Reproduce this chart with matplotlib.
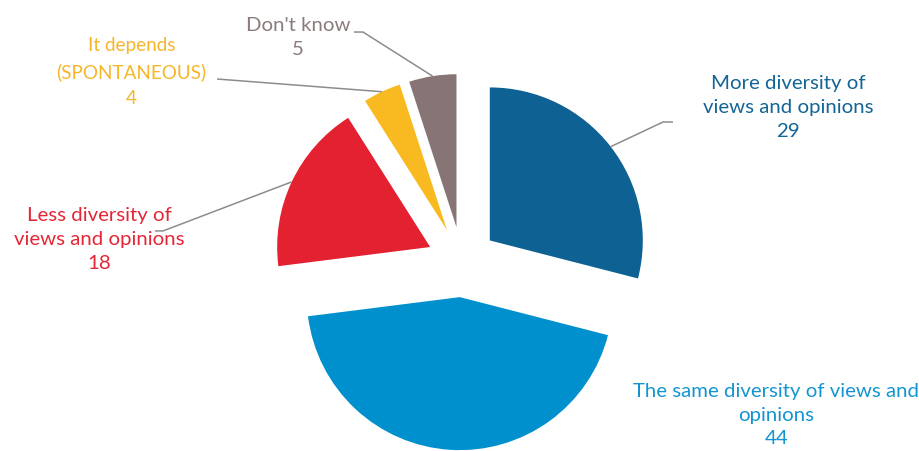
import numpy as np
import matplotlib
matplotlib.use("Agg")
import matplotlib.pyplot as plt

plt.rcParams['font.family'] = ['Lato', 'DejaVu Sans']

# data
labels = ["More diversity of\nviews and opinions",
          "The same diversity of views and\nopinions",
          "Less diversity of\nviews and opinions",
          "It depends\n(SPONTANEOUS)",
          "Don't know"]
values = [29, 44, 18, 4, 5]
colors = ["#0E6193", "#0090CE", "#E32131", "#F9BA21", "#877575"]
text_colors = ["#136596", "#1495D0", "#E52637", "#F7B52A", "#8B7B7B"]

# label layout (data units, radius = 1)
text_pos = [(2.13, 1.007), (2.055, -1.0), (-2.37, 0.144), (-2.16, 1.24), (-1.07, 1.467)]
text_size = [14.7, 14.7, 14.7, 13.6, 14.7]
elbows = [(1.314, 0.915), None, (-1.954, 0.203), (-1.601, 1.196), (-0.647, 1.503)]
elbow_ends = [(1.379, 0.915), None, (-2.007, 0.203), None, (-0.706, 1.503)]

explode_amt = 0.23
fig = plt.figure(figsize=(9.2, 4.51), dpi=100)
ax = fig.add_axes([0, 0, 1, 1])
wedges, _ = ax.pie(values, colors=colors, startangle=90, counterclock=False,
                   explode=[explode_amt] * len(values), radius=1,
                   wedgeprops=dict(linewidth=0))

for i, w in enumerate(wedges):
    mid = np.deg2rad((w.theta1 + w.theta2) / 2)
    r = 1 + explode_amt
    start = (r * np.cos(mid), r * np.sin(mid))
    if elbows[i] is not None:
        pts = [start, elbows[i]]
        if elbow_ends[i] is not None:
            pts.append(elbow_ends[i])
        xs, ys = zip(*pts)
        ax.plot(xs, ys, color="#8C8C8C", lw=1.1, solid_capstyle="butt")
    ax.text(text_pos[i][0], text_pos[i][1], f"{labels[i]}\n{values[i]}",
            ha="center", va="center", color=text_colors[i], fontsize=text_size[i],
            linespacing=1.5 * 14.7 / text_size[i])

ax.set_xlim(-462 / 153, (920 - 462) / 153)
ax.set_ylim(-(451 - 262) / 153, 262 / 153)
ax.set_aspect("equal")
ax.axis("off")

fig.savefig("out.png", dpi=100)
